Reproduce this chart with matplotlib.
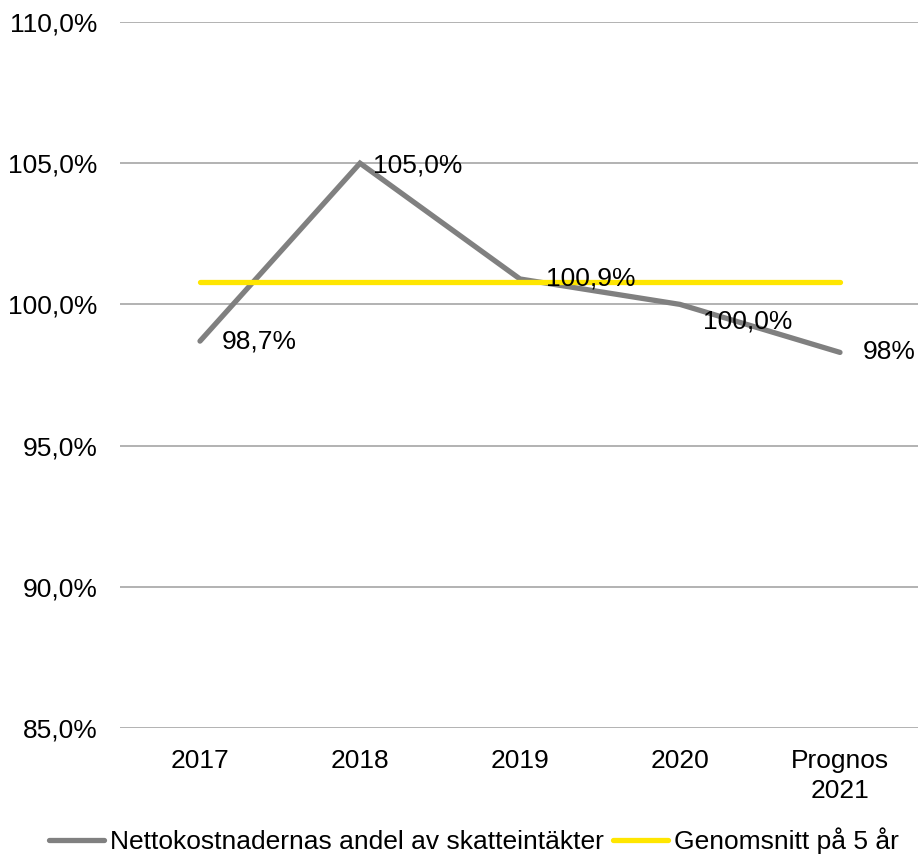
import matplotlib.pyplot as plt

plt.rcParams['font.family'] = ['Liberation Sans', 'DejaVu Sans']

kategorier = ['2017', '2018', '2019', '2020', 'Prognos\n2021']
andel = [98.7, 105.0, 100.9, 100.0, 98.3]
etiketter = ['98,7%', '105,0%', '100,9%', '100,0%', '98%']
snitt = [100.8, 100.8, 100.8, 100.8, 100.8]
y_ticks = [85, 90, 95, 100, 105, 110]

# etikettförskjutning i pixlar
offsets = [(22, 0), (13, -2), (26, 0), (23, -17), (23, 0)]

fig = plt.figure(figsize=(9.18, 8.56), dpi=100)
ax = fig.add_axes([120 / 918, 1 - 728 / 856, 800 / 918, (728 - 22) / 856])

x = list(range(len(kategorier)))
ax.plot(x, andel, color='#808080', linewidth=3.8, solid_capstyle='round',
        solid_joinstyle='miter', label='Nettokostnadernas andel av skatteintäkter', zorder=3)
ax.plot(x, snitt, color='#FFE600', linewidth=3.8, solid_capstyle='round',
        label='Genomsnitt på 5 år', zorder=3)

for xi, yi, txt, off in zip(x, andel, etiketter, offsets):
    ax.annotate(txt, (xi, yi), xytext=off, textcoords='offset pixels',
                ha='left', va='center', fontsize=19, color='black', zorder=4)

ax.set_xlim(-0.5, len(kategorier) - 0.5)
ax.set_ylim(85, 110)
ax.set_yticks(y_ticks)
ax.set_yticklabels([f'{v:.1f}%'.replace('.', ',') for v in y_ticks])
ax.set_xticks(x)
ax.set_xticklabels(kategorier, linespacing=1.3)
ax.tick_params(axis='y', length=0, pad=16, labelsize=19)
ax.tick_params(axis='x', length=0, pad=15, labelsize=19)
ax.grid(axis='y', color='#a6a6a6', linewidth=1.2)
ax.set_axisbelow(True)
for s in ax.spines.values():
    s.set_visible(False)

fig.legend(loc='center', bbox_to_anchor=(0.516, 1 - 841 / 856), ncol=2, frameon=False,
           fontsize=19, handlelength=2.1, handletextpad=0.2, columnspacing=0.35)

plt.savefig('out.png', dpi=100)
plt.close()
